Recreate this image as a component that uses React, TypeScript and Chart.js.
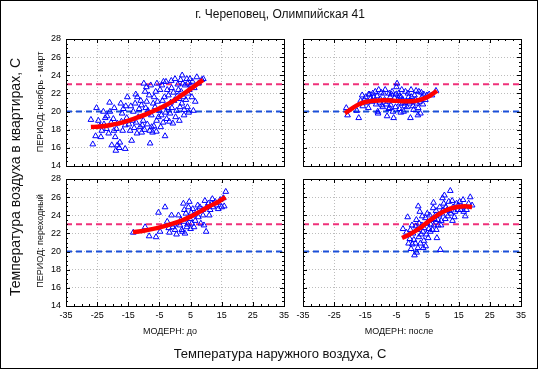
import React, { useEffect, useRef } from 'react';
import { Chart, registerables } from 'chart.js';

Chart.register(...registerables);

type Pt = [number, number];

// ---------- axes / reference values ----------
const xRange: number[] = [-35, 35];
const yRange: number[] = [14, 28];
const xTickValues: number[] = [-35, -25, -15, -5, 5, 15, 25, 35];
const yTickValues: number[] = [14, 16, 18, 20, 22, 24, 26, 28];
const normUpper = 23;
const normLower = 20;

// ---------- texts ----------
const titleText = 'г. Череповец, Олимпийская 41';
const yAxisTitle = 'Температура воздуха в квартирах, С';
const xAxisTitle = 'Температура наружного воздуха, С';
const rowLabels: string[] = ['ПЕРИОД: ноябрь - март', 'ПЕРИОД: переходный'];
const colLabels: string[] = ['МОДЕРН: до', 'МОДЕРН: после'];

// ---------- data: winter period, before modernisation ----------
const winterBefore: Pt[] = [
  [-27, 19.1], [-25.2, 20.4], [-26.4, 16.4], [-25.5, 17.3], [-24.6, 19.0], [-23.8, 17.2], [-23.5, 17.9],
  [-23, 20.0], [-22.4, 19.3], [-22, 18.1], [-21, 21.0], [-20.9, 20.0], [-20.3, 16.3], [-21.3, 17.6],
  [-19.6, 17.9], [-19.2, 17.2], [-19, 15.7], [-18.5, 16.3], [-17.9, 16.0], [-17.7, 16.6], [-16, 15.9],
  [-18.5, 18.7], [-17.4, 20.9], [-17, 19.8], [-16.6, 20.3], [-16, 18.5], [-15.3, 21.6], [-16.8, 17.9],
  [-14.4, 17.9], [-13.9, 16.8], [-13.4, 20.0], [-12.8, 20.9], [-12.5, 18.8], [-12.1, 21.6], [-11.8, 19.4],
  [-11.2, 18.3], [-10.7, 17.7], [-10.2, 19.0], [-10, 23.1], [-9.6, 22.2], [-9.1, 21.1], [-8.6, 19.8],
  [-8, 16.5], [-7.8, 22.9], [-7.5, 18.3], [-7.2, 17.7], [-6.7, 21.6], [-6.4, 20.5], [-5.9, 19.0],
  [-5.3, 19.4], [-4.8, 22.4], [-4.6, 18.3], [-4, 21.2], [-3.5, 20.5], [-3.2, 17.3], [-2.9, 23.3],
  [-2.7, 19.2], [-2.1, 21.8], [-1.6, 19.8], [-1.1, 22.6], [-0.7, 18.7], [-0.3, 21.2], [0, 23.6],
  [0.5, 20.1], [1.1, 22.4], [1.4, 19.0], [1.8, 23.5], [2.2, 20.9], [2.7, 21.6], [2.9, 19.6], [3.2, 22.9],
  [3.8, 23.6], [4, 20.5], [4.6, 22.4], [4.8, 23.6], [5.4, 21.6], [5.9, 20.1], [7, 23.8], [7.5, 23.1],
  [8.6, 23.5], [9.1, 23.6],
  [-22.8, 18.6], [-21.8, 19.5], [-20.5, 18.8], [-19.8, 19.2], [-18.8, 18.1], [-17.2, 18.9], [-15.5, 19.3],
  [-14.8, 18.6], [-14.2, 20.6], [-13.6, 19.0], [-13.1, 18.2], [-12.2, 17.6], [-11.5, 20.3], [-11, 21.2],
  [-10.5, 18.5], [-9.8, 18.0], [-9.4, 20.4], [-8.9, 18.6], [-8.3, 21.8], [-8.1, 17.9], [-7.6, 19.6],
  [-7, 20.9], [-6.8, 18.4], [-6.2, 22.2], [-6, 17.8], [-5.6, 21.1], [-5, 20.1], [-4.4, 19.6], [-4.2, 22.9],
  [-3.8, 18.8], [-3.4, 21.6], [-3, 19.9], [-2.5, 22.4], [-2.3, 20.4], [-1.8, 18.9], [-1.4, 21.0],
  [-1, 20.4], [-0.5, 22.1], [0.2, 19.4], [0.7, 21.7], [0.9, 23.0], [1.6, 20.5], [2, 22.2], [2.5, 23.1],
  [3, 20.2], [3.5, 21.3], [4.2, 22.0], [4.4, 19.9], [5, 22.9], [5.6, 23.3], [6.2, 22.6], [6.5, 21.1],
  [-9.2, 22.7], [-8.7, 20.1], [-12.6, 21.9], [-15.8, 20.6], [-19.5, 20.4], [-24.1, 18.4], [-1.2, 23.4],
  [1.3, 21.4], [-5.8, 23.1], [-3.7, 23.3], [2.3, 24.0], [4.1, 23.1], [-10.8, 20.7],
];
const winterBeforeFit: Pt[] = [
  [-27, 18.3], [-24, 18.35], [-21, 18.5], [-18, 18.7], [-15, 19.0], [-12, 19.35], [-9, 19.75],
  [-6, 20.2], [-3, 20.7], [0, 21.3], [3, 22.0], [6, 22.75], [9, 23.5],
];

// ---------- data: winter period, after modernisation ----------
const winterAfter: Pt[] = [
  [-21.1, 20.4], [-20.7, 19.6], [-17.1, 19.3], [-17.7, 20.1], [-16, 21.8], [-15.3, 21.3], [-14.4, 21.0],
  [-13.6, 21.9], [-12.8, 21.1], [-12.3, 21.6], [-11.8, 22.2], [-11, 20.0], [-10.7, 22.4], [-10.2, 21.4],
  [-9.6, 20.7], [-9.1, 22.0], [-8.6, 22.4], [-8, 19.5], [-7.8, 21.1], [-7.5, 20.3], [-7, 21.6],
  [-6.4, 22.2], [-6.1, 20.0], [-5.9, 19.3], [-5.3, 20.5], [-5, 22.7], [-4.8, 23.1], [-4.6, 21.3],
  [-4.3, 22.0], [-4, 20.3], [-3.5, 21.6], [-3.1, 20.9], [-2.7, 20.0], [-2.1, 22.2], [-1.6, 20.5],
  [-1.1, 21.6], [-0.5, 19.3], [-0.3, 22.4], [0, 21.1], [0.5, 20.2], [0.8, 21.8], [1.6, 20.9], [2.2, 22.2],
  [2.7, 19.8], [3.2, 21.6], [3.8, 21.9], [4.8, 21.8], [6.4, 21.8], [7.7, 22.3],
  [-16.5, 21.2], [-15.8, 20.6], [-14.9, 21.6], [-14, 20.4], [-13.2, 21.5], [-12.6, 22.0], [-11.5, 20.8],
  [-11.2, 21.7], [-10.4, 21.0], [-9.9, 22.1], [-9.4, 20.5], [-8.8, 21.3], [-8.3, 20.8], [-7.3, 22.0],
  [-6.8, 20.7], [-6.6, 21.9], [-5.6, 21.5], [-5.1, 21.9], [-4.1, 21.7], [-3.8, 20.9], [-3.3, 22.4],
  [-2.9, 21.3], [-2.4, 20.6], [-1.9, 21.1], [-1.3, 22.0], [-0.8, 20.9], [-0.1, 21.6], [0.3, 20.6],
  [1.1, 21.3], [1.3, 22.3], [2, 20.4], [2.5, 21.1], [3, 22.1], [3.5, 20.8], [4.3, 21.3], [5.5, 21.9],
  [-13.9, 21.9], [-10.9, 19.8], [-7.2, 20.4], [-3.6, 19.9], [1.9, 19.6],
];
const winterAfterFit: Pt[] = [
  [-21.5, 19.8], [-19, 20.4], [-17, 20.8], [-15, 21.05], [-12, 21.2], [-9, 21.25], [-6, 21.2],
  [-3, 21.15], [0, 21.15], [2, 21.25], [4, 21.45], [6, 21.8], [8, 22.3],
];

// ---------- data: transitional period, before modernisation ----------
const transBefore: Pt[] = [
  [-13.4, 22.1], [-9.6, 22.7], [-8.3, 21.7], [-6.1, 21.6], [-5.3, 24.3], [-4.8, 22.2], [-3.2, 24.9],
  [-2.5, 23.3], [-1.8, 22.1], [-1.1, 24.0], [-0.7, 22.7], [0, 22.4], [0.5, 21.9], [1.1, 24.0], [1.6, 22.9],
  [2.2, 22.4], [2.7, 25.3], [2.9, 23.3], [3.2, 22.0], [3.5, 24.2], [3.8, 22.7], [4.3, 24.9], [4.6, 25.5],
  [4.8, 23.6], [5, 22.5], [5.4, 23.1], [5.7, 24.7], [5.9, 24.0], [6.1, 22.7], [7, 24.4], [7.5, 23.8],
  [8, 24.9], [8.3, 23.1], [8.9, 24.6], [9.3, 22.9], [9.6, 25.6], [10, 22.2], [10.2, 24.9], [10.7, 25.3],
  [11.3, 24.6], [11.8, 25.3], [12.3, 24.9], [12.9, 25.5], [13.4, 25.1], [13.9, 24.7], [14.5, 25.7],
  [15, 24.9], [15.5, 25.9], [15.8, 25.0], [16.3, 26.6],
  [-0.3, 23.0], [1.9, 23.5], [3.0, 24.6], [4.0, 23.0], [6.5, 23.4], [7.3, 25.1], [9, 24.0], [11, 24.0],
  [12, 25.8], [14, 25.4], [2.4, 22.2], [5.2, 24.3], [-2, 22.6],
];
const transBeforeFit: Pt[] = [
  [-13.5, 22.15], [-10, 22.3], [-7, 22.5], [-4, 22.75], [-1, 23.05], [2, 23.4], [5, 23.85],
  [8, 24.4], [11, 25.0], [14, 25.5], [16.2, 26.0],
];

// ---------- data: transitional period, after modernisation ----------
const transAfter: Pt[] = [
  [-2.9, 22.5], [-1.4, 23.8], [-1.1, 20.9], [-0.7, 21.4], [-0.3, 20.3], [0, 22.9], [0.3, 22.0], [0.8, 19.6],
  [1.1, 20.9], [1.4, 23.5], [1.6, 22.4], [2.2, 21.6], [2.5, 24.4], [2.7, 20.9], [3.2, 22.9], [3.5, 22.2],
  [3.8, 21.2], [4.3, 23.7], [4.6, 21.9], [4.8, 23.1], [5.4, 22.5], [5.7, 24.0], [5.9, 22.2], [6.4, 23.5],
  [6.8, 24.8], [7, 22.9], [7.5, 24.0], [7.8, 22.4], [8, 21.5], [8.3, 23.5], [8.9, 24.9], [9.1, 20.2],
  [9.3, 22.9], [9.6, 24.2], [10.2, 25.3], [10.4, 26.2], [10.7, 23.6], [11.3, 24.6], [11.8, 25.5],
  [12.3, 26.7], [12.5, 24.2], [13.2, 24.9], [13.6, 23.8], [14.3, 25.3], [14.7, 24.6], [15.3, 25.5],
  [16.1, 24.9], [16.6, 24.4], [17.1, 23.9], [17.5, 24.6], [18.2, 25.3], [18.7, 26.0], [19.3, 25.1],
  [-0.5, 22.4], [0.6, 21.3], [1.2, 22.8], [1.9, 20.4], [2.3, 23.1], [2.9, 21.9], [3.3, 23.9], [3.9, 22.6],
  [4.4, 20.6], [4.9, 24.2], [5.2, 21.5], [6, 23.0], [6.6, 22.4], [7.2, 23.6], [7.7, 24.5], [8.4, 22.9],
  [8.7, 24.0], [9.4, 23.4], [10, 24.6], [10.9, 24.9], [11.5, 23.9], [12, 24.5], [12.9, 25.6], [13.8, 24.4],
  [14.9, 25.1], [15.7, 24.6], [16.4, 25.7], [0.1, 20.8], [1.5, 19.9], [3.6, 20.4], [2, 25.0], [-1.8, 22.1],
  [6.9, 25.4], [9.8, 25.9], [13, 23.4],
];
const transAfterFit: Pt[] = [
  [-3.2, 21.5], [-1, 21.85], [1, 22.25], [3, 22.7], [5, 23.25], [7, 23.75], [9, 24.2], [11, 24.55],
  [13, 24.8], [15, 24.95], [17, 25.0], [19.3, 24.9],
];

// ---------- layout ----------
const W = 538;
const H = 369;
const FONT = "'Liberation Sans', Arial, sans-serif";

interface Panel {
  points: Pt[];
  fit: Pt[];
  box: [number, number, number, number];
  xLabels: boolean;
  yLabels: boolean;
}

const panels: Panel[] = [
  { points: winterBefore, fit: winterBeforeFit, box: [66, 39, 284, 166], xLabels: false, yLabels: true },
  { points: winterAfter, fit: winterAfterFit, box: [303, 39, 521, 166], xLabels: false, yLabels: false },
  { points: transBefore, fit: transBeforeFit, box: [66, 179, 284, 306], xLabels: true, yLabels: true },
  { points: transAfter, fit: transAfterFit, box: [303, 179, 521, 306], xLabels: true, yLabels: false },
];

const framePlugin = {
  id: 'panelFrame',
  afterDraw(chart: any) {
    const { ctx, chartArea } = chart;
    const { left, top, right, bottom } = chartArea;
    const xs = chart.scales.x;
    const ys = chart.scales.y;
    ctx.save();
    ctx.strokeStyle = '#000';
    ctx.lineWidth = 1;
    ctx.beginPath();
    for (let v = xRange[0]; v <= xRange[1] + 1e-6; v += 2.5) {
      const px = Math.round(xs.getPixelForValue(v)) + 0.5;
      const major = Math.abs(((v - xRange[0]) % 10)) < 1e-6;
      const len = major ? 4 : 2;
      ctx.moveTo(px, top); ctx.lineTo(px, top + len);
      ctx.moveTo(px, bottom); ctx.lineTo(px, bottom - len);
    }
    for (let v = yRange[0]; v <= yRange[1] + 1e-6; v += 0.5) {
      const py = Math.round(ys.getPixelForValue(v)) + 0.5;
      const major = Math.abs(((v - yRange[0]) % 2)) < 1e-6;
      const len = major ? 4 : 2;
      ctx.moveTo(left, py); ctx.lineTo(left + len, py);
      ctx.moveTo(right, py); ctx.lineTo(right - len, py);
    }
    ctx.stroke();
    ctx.strokeRect(Math.round(left) + 0.5, Math.round(top) + 0.5, Math.round(right - left), Math.round(bottom - top));
    ctx.restore();
  },
};

function makeChart(canvas: HTMLCanvasElement, p: Panel) {
  const [l, t, r, b] = p.box;
  const yW = p.yLabels ? 30 : 0;
  const xH = p.xLabels ? 20 : 0;
  const toXY = (arr: Pt[]) => arr.map(([x, y]) => ({ x, y }));
  return new Chart(canvas, {
    type: 'scatter',
    data: {
      datasets: [
        {
          data: toXY(p.fit),
          showLine: true,
          borderColor: '#ff0000',
          borderWidth: 4.5,
          pointRadius: 0,
          cubicInterpolationMode: 'monotone',
          order: 0,
        } as any,
        {
          data: toXY(p.points),
          pointStyle: 'triangle',
          pointRadius: 3.3,
          borderColor: '#0000ff',
          backgroundColor: 'rgba(0,0,0,0)',
          borderWidth: 1,
          order: 1,
        },
        {
          data: [{ x: xRange[0], y: normUpper }, { x: xRange[1], y: normUpper }],
          showLine: true,
          borderColor: '#f0307a',
          borderDash: [6, 4],
          borderWidth: 2,
          pointRadius: 0,
          order: 2,
        } as any,
        {
          data: [{ x: xRange[0], y: normLower }, { x: xRange[1], y: normLower }],
          showLine: true,
          borderColor: '#1a4fd8',
          borderDash: [6, 4],
          borderWidth: 2,
          pointRadius: 0,
          order: 3,
        } as any,
      ],
    },
    options: {
      responsive: false,
      animation: false,
      events: [],
      layout: { padding: { left: l - yW, top: t, right: W - r, bottom: H - b - xH } },
      plugins: { legend: { display: false }, tooltip: { enabled: false }, title: { display: false } },
      scales: {
        x: {
          type: 'linear',
          min: xRange[0],
          max: xRange[1],
          afterBuildTicks: (ax: any) => { ax.ticks = xTickValues.map((value) => ({ value })); },
          afterFit: (ax: any) => { ax.height = xH; },
          ticks: { display: p.xLabels, font: { size: 9, family: FONT }, color: '#000', padding: 4, maxRotation: 0, autoSkip: false },
          grid: { color: '#bcbcbc', drawTicks: false, lineWidth: 1 },
          border: { display: false, dash: [1, 2] },
        },
        y: {
          type: 'linear',
          min: yRange[0],
          max: yRange[1],
          afterBuildTicks: (ax: any) => { ax.ticks = yTickValues.map((value) => ({ value })); },
          afterFit: (ax: any) => { ax.width = yW; },
          ticks: { display: p.yLabels, font: { size: 9, family: FONT }, color: '#000', padding: 5, autoSkip: false },
          grid: { color: '#bcbcbc', drawTicks: false, lineWidth: 1 },
          border: { display: false, dash: [1, 2] },
        },
      },
    } as any,
    plugins: [framePlugin],
  });
}

function PanelCanvas({ panel }: { panel: Panel }) {
  const ref = useRef<HTMLCanvasElement | null>(null);
  useEffect(() => {
    if (!ref.current) return;
    const chart = makeChart(ref.current, panel);
    return () => chart.destroy();
  }, [panel]);
  return (
    <canvas
      ref={ref}
      width={W}
      height={H}
      style={{ position: 'absolute', left: 0, top: 0, width: W, height: H }}
    />
  );
}

const textBase: React.CSSProperties = {
  position: 'absolute',
  fontFamily: FONT,
  color: '#111',
  whiteSpace: 'nowrap',
  lineHeight: 1,
};

export default function App() {
  return (
    <div style={{ position: 'fixed', left: 0, top: 0, width: W, height: H, background: '#fff', overflow: 'hidden' }}>
      {panels.map((p, i) => (
        <PanelCanvas key={i} panel={p} />
      ))}
      <div style={{ ...textBase, left: 280, top: 14, fontSize: 12, transform: 'translate(-50%,-50%)' }}>{titleText}</div>
      <div style={{ ...textBase, left: 15, top: 177, fontSize: 14, transform: 'translate(-50%,-50%) rotate(-90deg)' }}>{yAxisTitle}</div>
      <div style={{ ...textBase, left: 280, top: 353, fontSize: 13, transform: 'translate(-50%,-50%)' }}>{xAxisTitle}</div>
      <div style={{ ...textBase, left: 40, top: 102, fontSize: 9, transform: 'translate(-50%,-50%) rotate(-90deg)' }}>{rowLabels[0]}</div>
      <div style={{ ...textBase, left: 40, top: 241, fontSize: 9, transform: 'translate(-50%,-50%) rotate(-90deg)' }}>{rowLabels[1]}</div>
      <div style={{ ...textBase, left: 170, top: 331, fontSize: 9, transform: 'translate(-50%,-50%)' }}>{colLabels[0]}</div>
      <div style={{ ...textBase, left: 399, top: 331, fontSize: 9, transform: 'translate(-50%,-50%)' }}>{colLabels[1]}</div>
      <div style={{ position: 'absolute', left: 0, top: 0, width: W, height: H, boxSizing: 'border-box', border: '1px solid #000', pointerEvents: 'none' }} />
    </div>
  );
}
